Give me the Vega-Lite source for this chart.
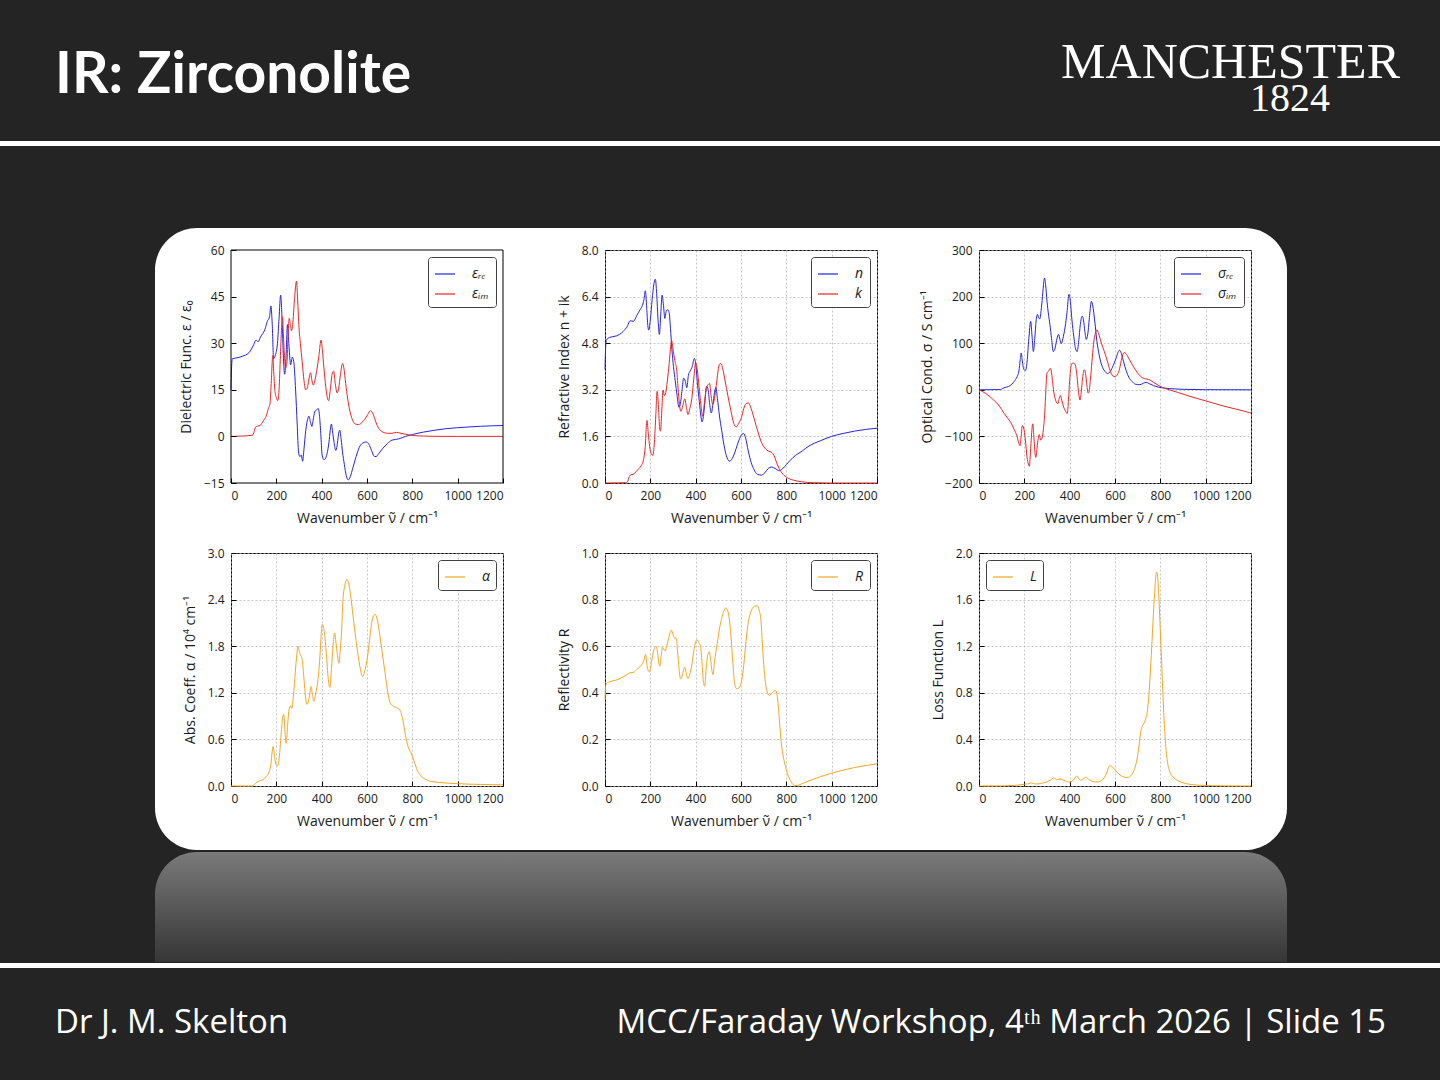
{
"$schema": "https://vega.github.io/schema/vega-lite/v6.json",
"background": "#242424",
"padding": {"top": 38, "bottom": 40, "left": 0, "right": 0},
"datasets": {
"ere": [{"w":0,"v":15},{"w":3,"v":23},{"w":6,"v":25},{"w":20,"v":25.2},{"w":50,"v":25.8},{"w":80,"v":27},{"w":100,"v":29.5},{"w":110,"v":31},{"w":120,"v":30.5},{"w":130,"v":32},{"w":150,"v":34.5},{"w":160,"v":37},{"w":170,"v":38.5},{"w":176,"v":42},{"w":182,"v":36},{"w":188,"v":25},{"w":195,"v":26},{"w":205,"v":30},{"w":212,"v":38},{"w":219,"v":45.5},{"w":226,"v":36},{"w":232,"v":24},{"w":237,"v":20},{"w":243,"v":26},{"w":249,"v":36},{"w":256,"v":29},{"w":263,"v":23},{"w":270,"v":25.5},{"w":277,"v":24},{"w":285,"v":15},{"w":292,"v":4},{"w":298,"v":-5},{"w":304,"v":-6.5},{"w":310,"v":-6},{"w":316,"v":-8},{"w":322,"v":-4},{"w":330,"v":2},{"w":338,"v":5.5},{"w":344,"v":6.5},{"w":351,"v":4.5},{"w":357,"v":3.2},{"w":364,"v":6},{"w":371,"v":8.2},{"w":378,"v":8.5},{"w":384,"v":9},{"w":390,"v":7},{"w":396,"v":1},{"w":402,"v":-6},{"w":410,"v":-7.5},{"w":416,"v":-7.2},{"w":424,"v":-5.5},{"w":432,"v":-2},{"w":438,"v":2},{"w":443,"v":4},{"w":449,"v":1},{"w":455,"v":-2},{"w":462,"v":-4.5},{"w":468,"v":-3},{"w":474,"v":0.5},{"w":480,"v":2},{"w":486,"v":-1},{"w":492,"v":-5},{"w":500,"v":-9},{"w":508,"v":-12.5},{"w":517,"v":-14},{"w":526,"v":-13},{"w":538,"v":-10},{"w":552,"v":-6.5},{"w":566,"v":-3.5},{"w":580,"v":-2.2},{"w":596,"v":-1.8},{"w":608,"v":-2.5},{"w":620,"v":-4.5},{"w":632,"v":-6.4},{"w":640,"v":-6.5},{"w":652,"v":-5.5},{"w":668,"v":-4},{"w":690,"v":-2.3},{"w":710,"v":-1.2},{"w":740,"v":-0.8},{"w":770,"v":0},{"w":800,"v":0.6},{"w":850,"v":1.4},{"w":900,"v":2},{"w":950,"v":2.5},{"w":1000,"v":2.8},{"w":1050,"v":3.05},{"w":1100,"v":3.25},{"w":1150,"v":3.4},{"w":1200,"v":3.5}],
"eim": [{"w":0,"v":0},{"w":50,"v":0.1},{"w":95,"v":0.4},{"w":102,"v":1.5},{"w":108,"v":3},{"w":118,"v":3.3},{"w":130,"v":3.6},{"w":142,"v":5},{"w":155,"v":6.5},{"w":165,"v":9},{"w":172,"v":10.5},{"w":178,"v":18},{"w":184,"v":26},{"w":189,"v":20},{"w":194,"v":14.5},{"w":200,"v":12.5},{"w":206,"v":11.5},{"w":212,"v":15},{"w":218,"v":26},{"w":224,"v":36},{"w":227,"v":38.5},{"w":231,"v":33},{"w":236,"v":26},{"w":241,"v":22},{"w":247,"v":24},{"w":252,"v":33},{"w":257,"v":38},{"w":262,"v":36},{"w":267,"v":34},{"w":272,"v":36},{"w":280,"v":44},{"w":286,"v":49},{"w":289,"v":50},{"w":294,"v":44},{"w":300,"v":35},{"w":306,"v":30},{"w":314,"v":24},{"w":322,"v":18},{"w":329,"v":15},{"w":336,"v":15.5},{"w":344,"v":18.5},{"w":351,"v":20.5},{"w":357,"v":18},{"w":363,"v":16.5},{"w":370,"v":18},{"w":380,"v":22},{"w":388,"v":26},{"w":397,"v":31},{"w":403,"v":28},{"w":410,"v":22},{"w":418,"v":16},{"w":425,"v":12.5},{"w":431,"v":11.5},{"w":438,"v":15},{"w":446,"v":20},{"w":453,"v":21},{"w":460,"v":17},{"w":468,"v":14},{"w":475,"v":15.5},{"w":483,"v":20},{"w":492,"v":23.5},{"w":498,"v":22},{"w":506,"v":17},{"w":515,"v":12},{"w":525,"v":8},{"w":535,"v":5.5},{"w":548,"v":4},{"w":562,"v":3.8},{"w":575,"v":4.3},{"w":590,"v":5.5},{"w":603,"v":7},{"w":615,"v":8.3},{"w":625,"v":7.5},{"w":635,"v":5.5},{"w":645,"v":3.5},{"w":658,"v":2},{"w":672,"v":1.3},{"w":690,"v":1},{"w":710,"v":1},{"w":730,"v":1.3},{"w":750,"v":1},{"w":770,"v":0.7},{"w":800,"v":0.3},{"w":850,"v":0.1},{"w":900,"v":0.02},{"w":1000,"v":0},{"w":1200,"v":0}],
"n": [{"w":0,"v":3.9},{"w":3,"v":4.7},{"w":6,"v":4.9},{"w":20,"v":5},{"w":50,"v":5.05},{"w":80,"v":5.2},{"w":100,"v":5.4},{"w":110,"v":5.57},{"w":125,"v":5.55},{"w":140,"v":5.75},{"w":155,"v":5.95},{"w":165,"v":6.1},{"w":172,"v":6.3},{"w":178,"v":6.6},{"w":184,"v":6.0},{"w":189,"v":5.4},{"w":193,"v":5.25},{"w":200,"v":5.6},{"w":208,"v":6.3},{"w":215,"v":6.8},{"w":222,"v":7.0},{"w":228,"v":6.5},{"w":234,"v":5.6},{"w":240,"v":5.1},{"w":246,"v":5.8},{"w":252,"v":6.45},{"w":258,"v":6.1},{"w":264,"v":5.65},{"w":270,"v":5.9},{"w":276,"v":5.95},{"w":283,"v":5.85},{"w":289,"v":5.3},{"w":295,"v":4.6},{"w":302,"v":4.0},{"w":310,"v":3.5},{"w":318,"v":3.0},{"w":326,"v":2.6},{"w":332,"v":2.7},{"w":340,"v":3.2},{"w":347,"v":3.6},{"w":354,"v":3.5},{"w":361,"v":3.27},{"w":368,"v":3.7},{"w":376,"v":3.85},{"w":385,"v":4.0},{"w":394,"v":4.28},{"w":400,"v":4.1},{"w":408,"v":3.4},{"w":416,"v":2.8},{"w":423,"v":2.3},{"w":428,"v":2.1},{"w":436,"v":2.4},{"w":442,"v":2.9},{"w":448,"v":3.32},{"w":455,"v":3.2},{"w":462,"v":2.7},{"w":469,"v":2.4},{"w":476,"v":2.7},{"w":483,"v":3.1},{"w":489,"v":3.28},{"w":496,"v":2.9},{"w":505,"v":2.3},{"w":515,"v":1.8},{"w":525,"v":1.3},{"w":535,"v":0.95},{"w":549,"v":0.75},{"w":562,"v":0.85},{"w":575,"v":1.1},{"w":590,"v":1.45},{"w":605,"v":1.68},{"w":612,"v":1.7},{"w":620,"v":1.55},{"w":632,"v":1.1},{"w":645,"v":0.7},{"w":658,"v":0.45},{"w":672,"v":0.3},{"w":690,"v":0.27},{"w":705,"v":0.35},{"w":720,"v":0.5},{"w":735,"v":0.55},{"w":750,"v":0.5},{"w":769,"v":0.42},{"w":785,"v":0.5},{"w":800,"v":0.63},{"w":830,"v":0.88},{"w":870,"v":1.1},{"w":900,"v":1.27},{"w":950,"v":1.45},{"w":1000,"v":1.6},{"w":1050,"v":1.7},{"w":1100,"v":1.78},{"w":1150,"v":1.84},{"w":1200,"v":1.88}],
"k": [{"w":0,"v":0},{"w":90,"v":0.01},{"w":100,"v":0.05},{"w":106,"v":0.2},{"w":113,"v":0.28},{"w":125,"v":0.3},{"w":138,"v":0.4},{"w":150,"v":0.5},{"w":160,"v":0.6},{"w":170,"v":0.8},{"w":177,"v":1.2},{"w":185,"v":2.15},{"w":191,"v":1.7},{"w":197,"v":1.25},{"w":204,"v":1.0},{"w":211,"v":0.95},{"w":218,"v":1.4},{"w":224,"v":2.3},{"w":230,"v":3.15},{"w":236,"v":2.6},{"w":241,"v":1.9},{"w":245,"v":1.78},{"w":250,"v":2.4},{"w":256,"v":3.19},{"w":262,"v":3.0},{"w":268,"v":3.1},{"w":275,"v":3.5},{"w":283,"v":4.1},{"w":290,"v":4.7},{"w":294,"v":4.88},{"w":300,"v":4.6},{"w":308,"v":4.2},{"w":316,"v":3.9},{"w":324,"v":3.1},{"w":330,"v":2.6},{"w":335,"v":2.46},{"w":343,"v":2.65},{"w":352,"v":2.89},{"w":359,"v":2.6},{"w":366,"v":2.35},{"w":374,"v":2.55},{"w":383,"v":2.9},{"w":392,"v":3.6},{"w":400,"v":4.13},{"w":407,"v":3.9},{"w":415,"v":3.3},{"w":423,"v":2.7},{"w":431,"v":2.29},{"w":438,"v":2.7},{"w":446,"v":3.2},{"w":455,"v":3.38},{"w":461,"v":3.42},{"w":468,"v":3.0},{"w":475,"v":2.7},{"w":483,"v":2.9},{"w":491,"v":3.35},{"w":498,"v":3.8},{"w":505,"v":4.08},{"w":512,"v":4.1},{"w":520,"v":3.9},{"w":530,"v":3.5},{"w":542,"v":3.0},{"w":555,"v":2.5},{"w":568,"v":2.05},{"w":579,"v":1.93},{"w":590,"v":2.05},{"w":602,"v":2.25},{"w":612,"v":2.55},{"w":622,"v":2.72},{"w":633,"v":2.75},{"w":645,"v":2.55},{"w":660,"v":2.15},{"w":675,"v":1.75},{"w":690,"v":1.4},{"w":705,"v":1.2},{"w":720,"v":1.1},{"w":735,"v":1.05},{"w":745,"v":0.95},{"w":755,"v":0.75},{"w":765,"v":0.55},{"w":780,"v":0.35},{"w":800,"v":0.2},{"w":830,"v":0.1},{"w":870,"v":0.04},{"w":920,"v":0.01},{"w":1000,"v":0},{"w":1200,"v":0}],
"sre": [{"w":0,"v":0},{"w":95,"v":0.5},{"w":105,"v":3},{"w":115,"v":5},{"w":130,"v":7},{"w":145,"v":12},{"w":158,"v":20},{"w":168,"v":28},{"w":176,"v":40},{"w":182,"v":65},{"w":186,"v":79},{"w":191,"v":62},{"w":197,"v":45},{"w":205,"v":41},{"w":212,"v":60},{"w":220,"v":110},{"w":228,"v":147},{"w":234,"v":115},{"w":240,"v":82},{"w":246,"v":110},{"w":252,"v":148},{"w":258,"v":162},{"w":263,"v":155},{"w":268,"v":152},{"w":274,"v":170},{"w":280,"v":200},{"w":286,"v":232},{"w":289,"v":240},{"w":294,"v":225},{"w":300,"v":190},{"w":307,"v":160},{"w":313,"v":140},{"w":320,"v":110},{"w":328,"v":82},{"w":336,"v":90},{"w":344,"v":110},{"w":351,"v":119},{"w":357,"v":108},{"w":363,"v":99},{"w":370,"v":110},{"w":380,"v":135},{"w":388,"v":165},{"w":397,"v":205},{"w":403,"v":190},{"w":410,"v":150},{"w":418,"v":115},{"w":426,"v":88},{"w":433,"v":82},{"w":440,"v":105},{"w":447,"v":140},{"w":455,"v":158},{"w":461,"v":150},{"w":467,"v":125},{"w":473,"v":108},{"w":480,"v":120},{"w":488,"v":160},{"w":496,"v":190},{"w":502,"v":180},{"w":510,"v":150},{"w":520,"v":105},{"w":530,"v":75},{"w":542,"v":52},{"w":555,"v":40},{"w":568,"v":35},{"w":580,"v":40},{"w":592,"v":52},{"w":605,"v":68},{"w":613,"v":80},{"w":620,"v":85},{"w":628,"v":78},{"w":638,"v":60},{"w":650,"v":40},{"w":662,"v":26},{"w":675,"v":18},{"w":690,"v":12},{"w":710,"v":11},{"w":725,"v":14},{"w":738,"v":16},{"w":752,"v":13},{"w":770,"v":9},{"w":790,"v":6},{"w":820,"v":3.5},{"w":860,"v":2},{"w":900,"v":1},{"w":1000,"v":0.3},{"w":1200,"v":0}],
"sim": [{"w":0,"v":0},{"w":30,"v":-8},{"w":60,"v":-20},{"w":90,"v":-35},{"w":110,"v":-50},{"w":125,"v":-60},{"w":140,"v":-70},{"w":155,"v":-85},{"w":168,"v":-100},{"w":176,"v":-115},{"w":181,"v":-120},{"w":186,"v":-100},{"w":191,"v":-77},{"w":197,"v":-82},{"w":204,"v":-105},{"w":212,"v":-145},{"w":218,"v":-160},{"w":222,"v":-164},{"w":227,"v":-135},{"w":232,"v":-95},{"w":237,"v":-73},{"w":242,"v":-100},{"w":248,"v":-140},{"w":251,"v":-145},{"w":256,"v":-125},{"w":261,"v":-105},{"w":266,"v":-96},{"w":272,"v":-108},{"w":278,"v":-104},{"w":284,"v":-85},{"w":290,"v":-50},{"w":295,"v":0},{"w":300,"v":36},{"w":307,"v":40},{"w":314,"v":46},{"w":319,"v":40},{"w":324,"v":20},{"w":330,"v":-5},{"w":338,"v":-22},{"w":348,"v":-30},{"w":354,"v":-18},{"w":359,"v":-12},{"w":365,"v":-22},{"w":372,"v":-35},{"w":380,"v":-44},{"w":389,"v":-51},{"w":395,"v":-20},{"w":400,"v":20},{"w":405,"v":48},{"w":411,"v":57},{"w":418,"v":57},{"w":425,"v":53},{"w":431,"v":35},{"w":437,"v":5},{"w":442,"v":-15},{"w":446,"v":-22},{"w":451,"v":-5},{"w":457,"v":25},{"w":464,"v":43},{"w":470,"v":35},{"w":476,"v":10},{"w":481,"v":-7},{"w":486,"v":-2},{"w":493,"v":30},{"w":500,"v":70},{"w":507,"v":105},{"w":514,"v":122},{"w":520,"v":129},{"w":528,"v":120},{"w":540,"v":100},{"w":553,"v":82},{"w":566,"v":62},{"w":578,"v":42},{"w":590,"v":30},{"w":600,"v":28},{"w":610,"v":32},{"w":620,"v":45},{"w":630,"v":68},{"w":640,"v":80},{"w":648,"v":78},{"w":660,"v":68},{"w":675,"v":55},{"w":690,"v":43},{"w":705,"v":33},{"w":720,"v":26},{"w":740,"v":23},{"w":755,"v":21},{"w":770,"v":16},{"w":790,"v":10},{"w":810,"v":5},{"w":840,"v":0},{"w":880,"v":-6},{"w":930,"v":-14},{"w":980,"v":-21},{"w":1030,"v":-28},{"w":1080,"v":-35},{"w":1130,"v":-41},{"w":1170,"v":-46},{"w":1200,"v":-50}],
"alpha": [{"w":0,"v":0},{"w":90,"v":0},{"w":100,"v":0.01},{"w":110,"v":0.04},{"w":120,"v":0.06},{"w":140,"v":0.08},{"w":155,"v":0.12},{"w":168,"v":0.18},{"w":176,"v":0.28},{"w":182,"v":0.45},{"w":186,"v":0.51},{"w":192,"v":0.38},{"w":198,"v":0.28},{"w":206,"v":0.26},{"w":214,"v":0.4},{"w":222,"v":0.7},{"w":229,"v":0.9},{"w":233,"v":0.92},{"w":238,"v":0.7},{"w":244,"v":0.55},{"w":249,"v":0.75},{"w":256,"v":0.98},{"w":262,"v":1.03},{"w":268,"v":1.0},{"w":275,"v":1.15},{"w":282,"v":1.4},{"w":289,"v":1.65},{"w":296,"v":1.8},{"w":302,"v":1.72},{"w":308,"v":1.68},{"w":314,"v":1.63},{"w":320,"v":1.45},{"w":327,"v":1.2},{"w":335,"v":1.05},{"w":342,"v":1.1},{"w":348,"v":1.2},{"w":353,"v":1.28},{"w":359,"v":1.18},{"w":366,"v":1.09},{"w":374,"v":1.2},{"w":383,"v":1.35},{"w":392,"v":1.65},{"w":398,"v":1.95},{"w":402,"v":2.08},{"w":408,"v":2.05},{"w":415,"v":1.9},{"w":422,"v":1.65},{"w":430,"v":1.35},{"w":437,"v":1.27},{"w":443,"v":1.5},{"w":450,"v":1.8},{"w":457,"v":1.97},{"w":463,"v":1.85},{"w":469,"v":1.7},{"w":476,"v":1.58},{"w":482,"v":1.75},{"w":488,"v":2.0},{"w":494,"v":2.4},{"w":502,"v":2.58},{"w":512,"v":2.66},{"w":520,"v":2.6},{"w":530,"v":2.4},{"w":542,"v":2.1},{"w":555,"v":1.8},{"w":568,"v":1.55},{"w":580,"v":1.41},{"w":592,"v":1.5},{"w":604,"v":1.7},{"w":614,"v":1.95},{"w":624,"v":2.15},{"w":635,"v":2.21},{"w":645,"v":2.15},{"w":656,"v":1.95},{"w":668,"v":1.7},{"w":680,"v":1.45},{"w":692,"v":1.2},{"w":702,"v":1.07},{"w":715,"v":1.03},{"w":730,"v":1.01},{"w":745,"v":0.98},{"w":758,"v":0.85},{"w":770,"v":0.65},{"w":782,"v":0.5},{"w":795,"v":0.42},{"w":808,"v":0.32},{"w":822,"v":0.2},{"w":838,"v":0.13},{"w":855,"v":0.09},{"w":880,"v":0.06},{"w":920,"v":0.045},{"w":1000,"v":0.03},{"w":1100,"v":0.02},{"w":1200,"v":0.015}],
"R": [{"w":0,"v":0.37},{"w":3,"v":0.43},{"w":6,"v":0.44},{"w":20,"v":0.447},{"w":50,"v":0.455},{"w":80,"v":0.468},{"w":100,"v":0.48},{"w":110,"v":0.486},{"w":125,"v":0.487},{"w":140,"v":0.5},{"w":155,"v":0.512},{"w":165,"v":0.525},{"w":172,"v":0.54},{"w":179,"v":0.565},{"w":185,"v":0.52},{"w":191,"v":0.495},{"w":196,"v":0.49},{"w":205,"v":0.53},{"w":212,"v":0.57},{"w":220,"v":0.595},{"w":226,"v":0.6},{"w":232,"v":0.57},{"w":238,"v":0.525},{"w":242,"v":0.514},{"w":248,"v":0.56},{"w":254,"v":0.595},{"w":260,"v":0.585},{"w":266,"v":0.58},{"w":273,"v":0.605},{"w":281,"v":0.635},{"w":288,"v":0.66},{"w":293,"v":0.669},{"w":300,"v":0.65},{"w":307,"v":0.635},{"w":314,"v":0.635},{"w":320,"v":0.58},{"w":327,"v":0.5},{"w":333,"v":0.46},{"w":340,"v":0.47},{"w":346,"v":0.495},{"w":352,"v":0.51},{"w":359,"v":0.48},{"w":366,"v":0.46},{"w":374,"v":0.48},{"w":383,"v":0.52},{"w":392,"v":0.58},{"w":399,"v":0.615},{"w":406,"v":0.628},{"w":414,"v":0.615},{"w":421,"v":0.6},{"w":428,"v":0.53},{"w":434,"v":0.45},{"w":440,"v":0.428},{"w":446,"v":0.5},{"w":453,"v":0.56},{"w":460,"v":0.576},{"w":466,"v":0.545},{"w":471,"v":0.5},{"w":476,"v":0.478},{"w":483,"v":0.53},{"w":490,"v":0.58},{"w":498,"v":0.63},{"w":506,"v":0.68},{"w":515,"v":0.72},{"w":524,"v":0.75},{"w":532,"v":0.764},{"w":540,"v":0.755},{"w":548,"v":0.72},{"w":556,"v":0.64},{"w":564,"v":0.53},{"w":572,"v":0.44},{"w":580,"v":0.418},{"w":590,"v":0.42},{"w":600,"v":0.44},{"w":610,"v":0.5},{"w":620,"v":0.6},{"w":630,"v":0.69},{"w":641,"v":0.74},{"w":652,"v":0.765},{"w":662,"v":0.772},{"w":671,"v":0.774},{"w":680,"v":0.755},{"w":688,"v":0.71},{"w":695,"v":0.6},{"w":702,"v":0.5},{"w":710,"v":0.43},{"w":717,"v":0.4},{"w":725,"v":0.389},{"w":733,"v":0.395},{"w":742,"v":0.405},{"w":752,"v":0.41},{"w":760,"v":0.385},{"w":768,"v":0.3},{"w":776,"v":0.2},{"w":784,"v":0.14},{"w":792,"v":0.1},{"w":800,"v":0.07},{"w":810,"v":0.04},{"w":820,"v":0.02},{"w":830,"v":0.006},{"w":840,"v":0.002},{"w":850,"v":0.003},{"w":870,"v":0.01},{"w":900,"v":0.022},{"w":950,"v":0.04},{"w":1000,"v":0.055},{"w":1050,"v":0.068},{"w":1100,"v":0.079},{"w":1150,"v":0.088},{"w":1200,"v":0.095}],
"L": [{"w":0,"v":0},{"w":100,"v":0.001},{"w":150,"v":0.004},{"w":200,"v":0.015},{"w":220,"v":0.02},{"w":232,"v":0.027},{"w":245,"v":0.018},{"w":260,"v":0.018},{"w":280,"v":0.025},{"w":300,"v":0.035},{"w":315,"v":0.05},{"w":329,"v":0.069},{"w":338,"v":0.06},{"w":346,"v":0.055},{"w":354,"v":0.058},{"w":362,"v":0.06},{"w":372,"v":0.05},{"w":385,"v":0.04},{"w":398,"v":0.033},{"w":410,"v":0.04},{"w":420,"v":0.06},{"w":432,"v":0.086},{"w":440,"v":0.065},{"w":448,"v":0.05},{"w":458,"v":0.058},{"w":466,"v":0.07},{"w":473,"v":0.075},{"w":482,"v":0.06},{"w":495,"v":0.045},{"w":510,"v":0.035},{"w":525,"v":0.035},{"w":540,"v":0.045},{"w":552,"v":0.07},{"w":563,"v":0.11},{"w":572,"v":0.16},{"w":578,"v":0.175},{"w":585,"v":0.17},{"w":595,"v":0.15},{"w":608,"v":0.12},{"w":622,"v":0.095},{"w":638,"v":0.078},{"w":652,"v":0.072},{"w":665,"v":0.08},{"w":678,"v":0.11},{"w":690,"v":0.17},{"w":700,"v":0.26},{"w":708,"v":0.38},{"w":714,"v":0.47},{"w":720,"v":0.51},{"w":728,"v":0.54},{"w":736,"v":0.58},{"w":744,"v":0.66},{"w":752,"v":0.85},{"w":760,"v":1.12},{"w":768,"v":1.42},{"w":775,"v":1.66},{"w":780,"v":1.8},{"w":784,"v":1.835},{"w":788,"v":1.8},{"w":794,"v":1.6},{"w":800,"v":1.33},{"w":806,"v":1.05},{"w":812,"v":0.76},{"w":818,"v":0.52},{"w":824,"v":0.34},{"w":832,"v":0.2},{"w":842,"v":0.12},{"w":855,"v":0.08},{"w":870,"v":0.055},{"w":890,"v":0.035},{"w":910,"v":0.022},{"w":940,"v":0.012},{"w":980,"v":0.006},{"w":1030,"v":0.003},{"w":1100,"v":0.001},{"w":1200,"v":0}],
"one": [{"k": 1}]
},
"vconcat": [
{
"vconcat": [
{
"hconcat": [
{"width": 720, "height": 5, "data": {"name": "one"}, "mark": {"type": "rect", "color": "#ffffff"}, "encoding": {}, "view": {"fill": "#ffffff", "stroke": null},
 "title": {"text": "IR: Zirconolite", "anchor": "start", "dx": 55, "font": "Lato", "fontSize": 57, "fontWeight": "bold", "color": "#ffffff", "baseline": "top", "offset": 36}},
{"width": 720, "height": 5, "data": {"name": "one"}, "mark": {"type": "rect", "color": "#ffffff"}, "encoding": {}, "view": {"fill": "#ffffff", "stroke": null},
 "title": {"text": "MANCHESTER", "subtitle": "1824\u00a0\u00a0\u00a0\u00a0\u00a0\u00a0\u00a0\u200b", "anchor": "end", "dx": -40, "font": "Liberation Serif", "fontSize": 50, "fontWeight": "normal", "color": "#ffffff", "subtitleFont": "Liberation Serif", "subtitleFontSize": 40, "subtitleColor": "#ffffff", "subtitlePadding": -9, "baseline": "top", "offset": 22}}
],
"spacing": 0, "bounds": "flush"
},
{
"hconcat": [
{"width": 154, "height": 10, "data": {"name": "one"}, "mark": {"type": "rect", "opacity": 0}, "encoding": {}, "view": {"stroke": null}},
{
"concat": [
{"width": 272, "height": 233,
 "layer": [
  {"data": {"name": "one"}, "mark": {"type": "rect", "fill": "#ffffff", "cornerRadius": 42},
   "encoding": {"x": {"datum": -335.3, "type": "quantitative", "title": "Wavenumber ν̃ / cm⁻¹"}, "x2": {"datum": 4658.8}, "y": {"datum": 67.08, "type": "quantitative", "title": "Dielectric Func. ε / ε₀"}, "y2": {"datum": -133.13}}},
  {"data": {"name": "one"}, "mark": {"type": "rect", "cornerRadiusTopLeft": 42, "cornerRadiusTopRight": 42, "color": {"gradient": "linear", "x1": 0, "y1": 0, "x2": 0, "y2": 1, "stops": [{"offset": 0, "color": "#7a7a7a"}, {"offset": 1, "color": "#363636"}]}},
   "encoding": {"x": {"datum": -335.3, "type": "quantitative", "title": "Wavenumber ν̃ / cm⁻¹"}, "x2": {"datum": 4658.8}, "y": {"datum": -133.78, "type": "quantitative", "title": "Dielectric Func. ε / ε₀"}, "y2": {"datum": -169.18}}},
  {"data": {"name": "ere"}, "mark": {"type": "line", "strokeWidth": 1, "interpolate": "monotone"},
   "encoding": {
    "x": {"field": "w", "type": "quantitative", "scale": {"domain": [0, 1200], "nice": false}, "axis": {"values": [0,200,400,600,800,1000,1200], "format": "d", "title": "Wavenumber ν̃ / cm⁻¹", "zindex": 1}},
    "y": {"field": "v", "type": "quantitative", "scale": {"domain": [-15, 60], "nice": false, "zero": false}, "axis": {"values": [-15,0,15,30,45,60], "title": "Dielectric Func. ε / ε₀", "zindex": 1}},
    "color": {"datum": "εᵣₑ", "type": "nominal", "scale": {"domain": ["εᵣₑ", "εᵢₘ"], "range": ["#2424e6", "#ec2424"]}, "legend": {"title": null, "orient": "top-right"}}}},
  {"data": {"name": "eim"}, "mark": {"type": "line", "strokeWidth": 1, "interpolate": "monotone"},
   "encoding": {"x": {"field": "w", "type": "quantitative"}, "y": {"field": "v", "type": "quantitative"}, "color": {"datum": "εᵢₘ", "type": "nominal"}}},
  {"data": {"name": "one"}, "mark": {"type": "rect", "fillOpacity": 0, "fill": "#ffffff", "stroke": "#000000", "strokeWidth": 1},
   "encoding": {"x": {"datum": 0, "type": "quantitative"}, "x2": {"datum": 1200}, "y": {"datum": -15, "type": "quantitative"}, "y2": {"datum": 60}}}
 ]},
{"width": 272, "height": 233,
 "layer": [
  {"data": {"name": "n"}, "mark": {"type": "line", "strokeWidth": 1, "interpolate": "monotone"},
   "encoding": {
    "x": {"field": "w", "type": "quantitative", "scale": {"domain": [0, 1200], "nice": false}, "axis": {"values": [0,200,400,600,800,1000,1200], "format": "d", "title": "Wavenumber ν̃ / cm⁻¹"}},
    "y": {"field": "v", "type": "quantitative", "scale": {"domain": [0, 8], "nice": false}, "axis": {"values": [0,1.6,3.2,4.8,6.4,8], "format": ".1f", "title": "Refractive Index n + ik"}},
    "color": {"datum": "n", "type": "nominal", "scale": {"domain": ["n", "k"], "range": ["#2424e6", "#ec2424"]}, "legend": {"title": null, "orient": "top-right"}}}},
  {"data": {"name": "k"}, "mark": {"type": "line", "strokeWidth": 1, "interpolate": "monotone"},
   "encoding": {"x": {"field": "w", "type": "quantitative"}, "y": {"field": "v", "type": "quantitative"}, "color": {"datum": "k", "type": "nominal"}}}
 ]},
{"width": 272, "height": 233,
 "layer": [
  {"data": {"name": "sre"}, "mark": {"type": "line", "strokeWidth": 1, "interpolate": "monotone"},
   "encoding": {
    "x": {"field": "w", "type": "quantitative", "scale": {"domain": [0, 1200], "nice": false}, "axis": {"values": [0,200,400,600,800,1000,1200], "format": "d", "title": "Wavenumber ν̃ / cm⁻¹"}},
    "y": {"field": "v", "type": "quantitative", "scale": {"domain": [-200, 300], "nice": false, "zero": false}, "axis": {"values": [-200,-100,0,100,200,300], "title": "Optical Cond. σ / S cm⁻¹"}},
    "color": {"datum": "σᵣₑ", "type": "nominal", "scale": {"domain": ["σᵣₑ", "σᵢₘ"], "range": ["#2424e6", "#ec2424"]}, "legend": {"title": null, "orient": "top-right"}}}},
  {"data": {"name": "sim"}, "mark": {"type": "line", "strokeWidth": 1, "interpolate": "monotone"},
   "encoding": {"x": {"field": "w", "type": "quantitative"}, "y": {"field": "v", "type": "quantitative"}, "color": {"datum": "σᵢₘ", "type": "nominal"}}}
 ]},
{"width": 272, "height": 233, "data": {"name": "alpha"}, "mark": {"type": "line", "strokeWidth": 1, "interpolate": "monotone"},
 "encoding": {
  "x": {"field": "w", "type": "quantitative", "scale": {"domain": [0, 1200], "nice": false}, "axis": {"values": [0,200,400,600,800,1000,1200], "format": "d", "title": "Wavenumber ν̃ / cm⁻¹"}},
  "y": {"field": "v", "type": "quantitative", "scale": {"domain": [0, 3], "nice": false}, "axis": {"values": [0,0.6,1.2,1.8,2.4,3], "format": ".1f", "title": "Abs. Coeff. α / 10⁴ cm⁻¹"}},
  "color": {"datum": "α", "type": "nominal", "scale": {"domain": ["α"], "range": ["#f4a623"]}, "legend": {"title": null, "orient": "top-right"}}}},
{"width": 272, "height": 233, "data": {"name": "R"}, "mark": {"type": "line", "strokeWidth": 1, "interpolate": "monotone"},
 "encoding": {
  "x": {"field": "w", "type": "quantitative", "scale": {"domain": [0, 1200], "nice": false}, "axis": {"values": [0,200,400,600,800,1000,1200], "format": "d", "title": "Wavenumber ν̃ / cm⁻¹"}},
  "y": {"field": "v", "type": "quantitative", "scale": {"domain": [0, 1], "nice": false}, "axis": {"values": [0,0.2,0.4,0.6,0.8,1], "format": ".1f", "title": "Reflectivity R"}},
  "color": {"datum": "R", "type": "nominal", "scale": {"domain": ["R"], "range": ["#f4a623"]}, "legend": {"title": null, "orient": "top-right"}}}},
{"width": 272, "height": 233, "data": {"name": "L"}, "mark": {"type": "line", "strokeWidth": 1, "interpolate": "monotone"},
 "encoding": {
  "x": {"field": "w", "type": "quantitative", "scale": {"domain": [0, 1200], "nice": false}, "axis": {"values": [0,200,400,600,800,1000,1200], "format": "d", "title": "Wavenumber ν̃ / cm⁻¹"}},
  "y": {"field": "v", "type": "quantitative", "scale": {"domain": [0, 2], "nice": false}, "axis": {"values": [0,0.4,0.8,1.2,1.6,2], "format": ".1f", "title": "Loss Function L"}},
  "color": {"datum": "L", "type": "nominal", "scale": {"domain": ["L"], "range": ["#f4a623"]}, "legend": {"title": null, "orient": "top-left"}}}}
],
"columns": 3, "spacing": {"row": 70, "column": 102}, "bounds": "flush",
"resolve": {"scale": {"color": "independent"}, "legend": {"color": "independent"}}
}
],
"spacing": 0
}
],
"spacing": 81
},
{
"hconcat": [
{"width": 720, "height": 5, "data": {"name": "one"}, "mark": {"type": "rect", "color": "#ffffff"}, "encoding": {}, "view": {"fill": "#ffffff", "stroke": null},
 "title": {"text": "Dr J. M. Skelton", "orient": "bottom", "anchor": "start", "dx": 55, "font": "Open Sans", "fontSize": 33, "fontWeight": "normal", "color": "#ffffff", "baseline": "top", "offset": 39}},
{"width": 720, "height": 5, "data": {"name": "one"}, "mark": {"type": "rect", "color": "#ffffff"}, "encoding": {}, "view": {"fill": "#ffffff", "stroke": null},
 "title": {"text": "MCC/Faraday Workshop, 4ᵗʰ March 2026 | Slide 15", "orient": "bottom", "anchor": "end", "dx": -54, "font": "Open Sans", "fontSize": 33, "fontWeight": "normal", "color": "#ffffff", "baseline": "top", "offset": 39}}
],
"spacing": 0, "bounds": "flush"
}
],
"spacing": 0,
"config": {
"view": {"stroke": "#000000", "strokeWidth": 1},
"axis": {"labelFont": "Open Sans", "labelFontSize": 12, "labelColor": "#1a1a1a", "labelOverlap": false, "titleFont": "Open Sans", "titleFontSize": 14, "titleFontWeight": "normal", "titleColor": "#1a1a1a", "gridColor": "#b0b0b0", "gridDash": [2, 2], "gridWidth": 0.7, "domain": false, "ticks": true, "tickColor": "#000000", "tickSize": -5, "tickWidth": 1, "labelPadding": 12, "titlePadding": 10},
"legend": {"symbolSize": 400, "symbolStrokeWidth": 1.2, "labelFont": "Open Sans", "labelFontSize": 14, "labelFontStyle": "italic", "labelColor": "#1a1a1a", "labelOffset": 16, "strokeColor": "#404040", "fillColor": "#ffffff", "padding": 6, "rowPadding": 2, "cornerRadius": 3, "offset": 7}
}
}
